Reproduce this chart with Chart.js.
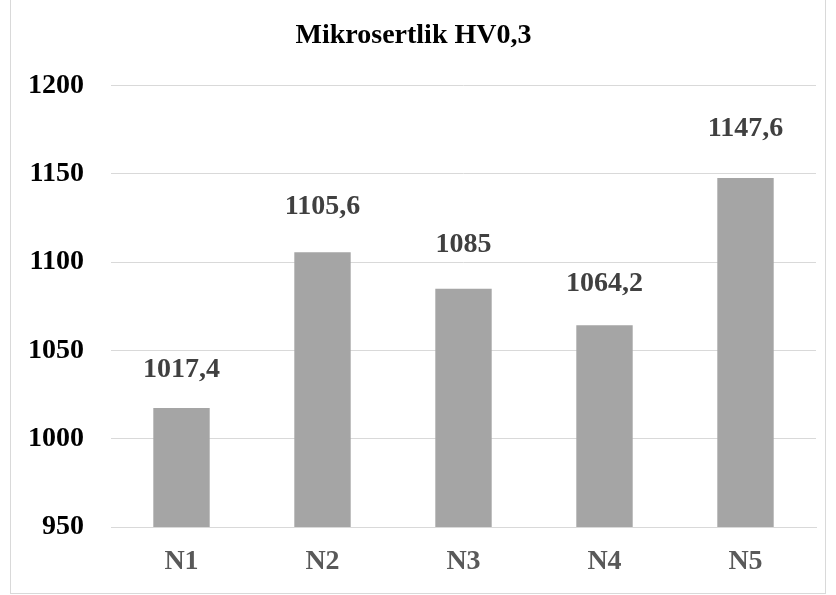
<!DOCTYPE html>
<html>
<head>
<meta charset="utf-8">
<script src="https://cdn.jsdelivr.net/npm/chart.js@4.4.0/dist/chart.umd.min.js"></script>
<style>
  html, body { margin: 0; padding: 0; background: #fff; }
  #box {
    position: absolute; left: 10px; top: -1px;
    width: 814px; height: 593px;
    border: 1px solid #d9d9d9;
  }
</style>
</head>
<body>
<div id="box"><canvas id="chart"></canvas></div>
<script>
const categories = ["N1", "N2", "N3", "N4", "N5"];
const hardness = [1017.4, 1105.6, 1085, 1064.2, 1147.6];
const valueLabels = ["1017,4", "1105,6", "1085", "1064,2", "1147,6"];
const yMin = 950;
const yMax = 1200;

const serif = "'Liberation Serif', 'Times New Roman', serif";

// draws the value above each bar (gap grows a little with bar height, like the original)
const barLabels = {
  id: "barLabels",
  afterDatasetsDraw(chart) {
    const ctx = chart.ctx;
    const meta = chart.getDatasetMeta(0);
    const bottom = chart.scales.y.bottom;
    ctx.save();
    ctx.font = "bold 28px " + serif;
    ctx.fillStyle = "#404040";
    ctx.textAlign = "center";
    ctx.textBaseline = "middle";
    meta.data.forEach((bar, i) => {
      const gap = 32 + 0.049 * (bottom - bar.y);
      ctx.fillText(valueLabels[i], bar.x, bar.y - gap);
    });
    ctx.restore();
  }
};

let ctx = document.getElementById("chart").getContext("2d");
let chart = new Chart(ctx, {
  type: "bar",
  data: {
    labels: categories,
    datasets: [
      {
        label: "Mikrosertlik HV0,3",
        data: hardness,
        backgroundColor: "#a5a5a5",
        borderWidth: 0,
        barPercentage: 0.5,
        categoryPercentage: 0.8,
      },
    ],
  },
  options: {
    responsive: true,
    maintainAspectRatio: false,
    animation: false,
    layout: { padding: { left: 0, right: 9, top: 0, bottom: 0 } },
    plugins: {
      legend: { display: false },
      tooltip: { enabled: false },
      title: {
        display: true,
        text: "Mikrosertlik HV0,3",
        color: "#000",
        font: { family: serif, size: 28, weight: "bold", lineHeight: 1.2 },
        padding: { top: 19, bottom: 33 },
      },
    },
    scales: {
      x: {
        grid: { display: false, drawTicks: false },
        border: { display: true, color: "#d9d9d9", width: 1 },
        ticks: {
          color: "#595959",
          font: { family: serif, size: 28, weight: "bold" },
          padding: 18,
        },
        afterFit(scale) { scale.height = 66; },
      },
      y: {
        min: yMin,
        max: yMax,
        grid: { color: "#d9d9d9", lineWidth: 1, drawTicks: false },
        border: { display: false },
        ticks: {
          stepSize: 50,
          color: "#000",
          font: { family: serif, size: 28, weight: "bold" },
          padding: 27,
          callback: (v) => String(v),
        },
        afterFit(scale) { scale.width = 100; },
      },
    },
  },
  plugins: [barLabels],
});
</script>
</body>
</html>
